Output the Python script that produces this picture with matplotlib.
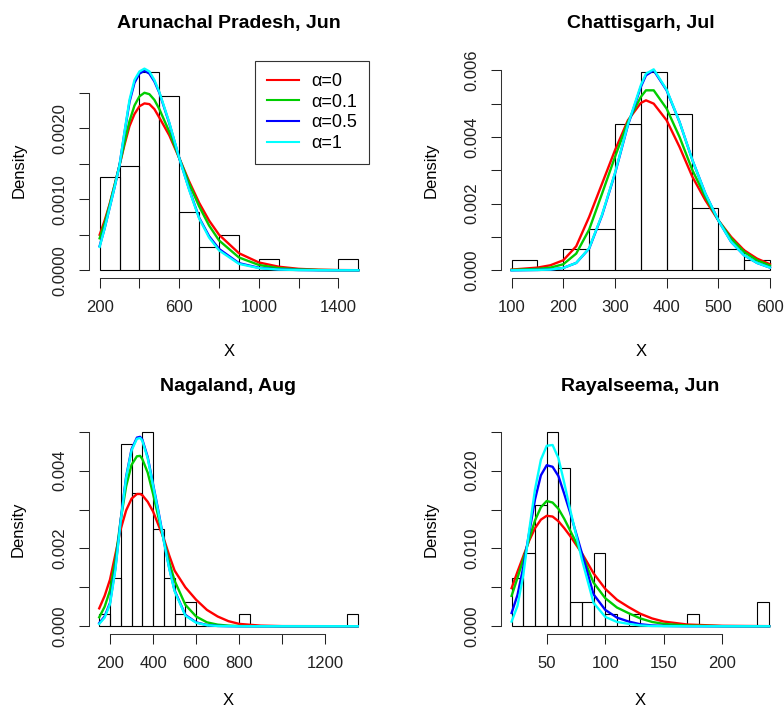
import matplotlib
matplotlib.use('Agg')
import matplotlib.pyplot as plt
import numpy as np

plt.rcParams['font.family'] = ['Liberation Sans', 'DejaVu Sans']

# curve colours for the four alpha values
alpha_labels = ['α=0', 'α=0.1', 'α=0.5', 'α=1']
colors = ['#FF0000', '#00CD00', '#0000FF', '#00FFFF']

# ---- Arunachal Pradesh, Jun  (curve values in units of 1e-3)
ap_edges = [200, 300, 400, 500, 600, 700, 800, 900, 1000, 1100, 1200, 1300, 1400, 1500]
ap_counts = [8, 9, 17, 15, 5, 2, 3, 0, 1, 0, 0, 0, 1]
ap_x = [200, 225, 250, 275, 300, 325, 350, 375, 400, 425, 450, 475, 500, 550, 600,
        650, 700, 750, 800, 900, 1000, 1100, 1200, 1300, 1400, 1500]
ap_red = [0.5, 0.7, 0.93, 1.2, 1.48, 1.77, 2.03, 2.2, 2.31, 2.35, 2.34, 2.27, 2.15, 1.9, 1.58,
          1.25, 0.95, 0.7, 0.5, 0.24, 0.11, 0.05, 0.02, 0.008, 0.003, 0.001]
ap_green = [0.45, 0.66, 0.92, 1.2, 1.48, 1.8, 2.1, 2.32, 2.45, 2.5, 2.48, 2.4, 2.27, 1.95, 1.58,
            1.22, 0.9, 0.63, 0.42, 0.18, 0.075, 0.03, 0.012, 0.004, 0.001, 0.0]
ap_blue = [0.34, 0.59, 0.88, 1.17, 1.48, 1.94, 2.37, 2.64, 2.77, 2.81, 2.77, 2.66, 2.5, 2.07, 1.58,
           1.14, 0.74, 0.48, 0.3, 0.1, 0.035, 0.012, 0.004, 0.001, 0.0, 0.0]
ap_cyan = [0.33, 0.59, 0.88, 1.17, 1.48, 1.95, 2.4, 2.68, 2.8, 2.84, 2.8, 2.68, 2.51, 2.08, 1.58,
           1.13, 0.73, 0.46, 0.28, 0.09, 0.03, 0.01, 0.003, 0.001, 0.0, 0.0]
ap_xticks = [200, 400, 600, 800, 1000, 1200, 1400]
ap_xticklabels = ['200', '', '600', '', '1000', '', '1400']
ap_yticks = [0, 0.0005, 0.001, 0.0015, 0.002, 0.0025]
ap_yticklabels = ['0.0000', '', '0.0010', '', '0.0020', '']

# ---- Chattisgarh, Jul
ch_edges = [100, 150, 200, 250, 300, 350, 400, 450, 500, 550, 600]
ch_counts = [1, 0, 2, 4, 14, 19, 15, 6, 2, 1]
ch_x = [100, 150, 175, 200, 225, 250, 275, 300, 325, 350, 360, 375, 400, 425, 450, 475, 500,
        525, 550, 575, 600]
ch_red = [0.02, 0.08, 0.15, 0.3, 0.72, 1.6, 2.6, 3.6, 4.5, 5.02, 5.1, 5.0, 4.5, 3.7, 2.8, 2.1,
          1.5, 1.0, 0.6, 0.35, 0.18]
ch_green = [0.01, 0.04, 0.08, 0.18, 0.5, 1.22, 2.3, 3.4, 4.45, 5.2, 5.4, 5.4, 4.85, 4.0, 3.0,
            2.2, 1.5, 0.95, 0.55, 0.3, 0.14]
ch_blue = [0.0, 0.01, 0.02, 0.07, 0.22, 0.65, 1.65, 2.9, 4.35, 5.5, 5.85, 6.0, 5.4, 4.45, 3.3,
           2.3, 1.5, 0.85, 0.45, 0.22, 0.08]
ch_cyan = [0.0, 0.01, 0.02, 0.07, 0.22, 0.66, 1.67, 2.92, 4.37, 5.55, 5.9, 6.03, 5.42, 4.45, 3.3,
           2.3, 1.5, 0.85, 0.45, 0.22, 0.08]
ch_xticks = [100, 200, 300, 400, 500, 600]
ch_xticklabels = ['100', '200', '300', '400', '500', '600']
ch_yticks = [0, 0.001, 0.002, 0.003, 0.004, 0.005, 0.006]
ch_yticklabels = ['0.000', '', '0.002', '', '0.004', '', '0.006']

# ---- Nagaland, Aug
na_edges = list(range(150, 1351, 50))
na_counts = [1, 4, 15, 11, 16, 8, 4, 1, 2, 0, 0, 0, 0, 1, 0, 0, 0, 0, 0, 0, 0, 0, 0, 1]
na_x = [150, 175, 200, 225, 250, 275, 300, 325, 340, 350, 375, 400, 425, 450, 475, 500, 550,
        600, 650, 700, 750, 800, 900, 1000, 1350]
na_red = [0.46, 0.78, 1.2, 1.85, 2.5, 2.98, 3.28, 3.4, 3.4, 3.37, 3.2, 2.95, 2.6, 2.25, 1.82,
          1.43, 1.0, 0.68, 0.42, 0.25, 0.13, 0.06, 0.015, 0.003, 0.0]
na_green = [0.23, 0.5, 0.92, 1.7, 2.75, 3.6, 4.15, 4.37, 4.38, 4.3, 3.95, 3.4, 2.8, 2.22, 1.65,
            1.17, 0.55, 0.25, 0.1, 0.04, 0.015, 0.005, 0.001, 0.0, 0.0]
na_blue = [0.08, 0.25, 0.6, 1.5, 2.75, 3.85, 4.55, 4.85, 4.87, 4.8, 4.35, 3.65, 2.95, 2.2, 1.5,
           0.92, 0.29, 0.1, 0.03, 0.008, 0.002, 0.0, 0.0, 0.0, 0.0]
na_cyan = [0.06, 0.22, 0.57, 1.45, 2.72, 3.82, 4.52, 4.82, 4.84, 4.77, 4.32, 3.62, 2.92, 2.18,
           1.48, 0.9, 0.27, 0.09, 0.025, 0.006, 0.001, 0.0, 0.0, 0.0, 0.0]
na_xticks = [200, 400, 600, 800, 1000, 1200]
na_xticklabels = ['200', '400', '600', '800', '', '1200']
na_yticks = [0, 0.001, 0.002, 0.003, 0.004, 0.005]
na_yticklabels = ['0.000', '', '0.002', '', '0.004', '']

# ---- Rayalseema, Jun
ra_edges = list(range(20, 241, 10))
ra_counts = [4, 6, 10, 16, 13, 2, 2, 6, 1, 0, 1, 0, 0, 0, 0, 1, 0, 0, 0, 0, 0, 2]
ra_x = [20, 25, 30, 35, 40, 45, 50, 55, 60, 65, 70, 80, 90, 100, 110, 120, 130, 140, 150,
        170, 200, 240]
ra_red = [4.9, 7.0, 9.0, 11.0, 12.6, 13.7, 14.2, 14.1, 13.5, 12.6, 11.6, 9.4, 6.8, 4.8, 3.4,
          2.45, 1.6, 1.0, 0.6, 0.22, 0.05, 0.01]
ra_green = [3.9, 6.2, 8.6, 11.2, 13.6, 15.3, 16.1, 15.9, 15.1, 13.8, 12.3, 9.3, 5.6, 3.6, 2.4,
            1.67, 1.0, 0.55, 0.3, 0.08, 0.01, 0.0]
ra_blue = [1.7, 4.0, 7.6, 12.0, 16.3, 19.4, 20.7, 20.5, 19.3, 17.0, 14.6, 9.4, 4.1, 2.1, 1.1,
           0.6, 0.25, 0.1, 0.04, 0.0, 0.0, 0.0]
ra_cyan = [0.6, 2.6, 6.6, 12.3, 17.6, 21.4, 23.2, 23.3, 21.6, 18.4, 15.0, 8.6, 3.0, 1.2, 0.55,
           0.3, 0.1, 0.03, 0.01, 0.0, 0.0, 0.0]
ra_xticks = [50, 100, 150, 200]
ra_xticklabels = ['50', '100', '150', '200']
ra_yticks = [0, 0.005, 0.01, 0.015, 0.02, 0.025]
ra_yticklabels = ['0.000', '', '0.010', '', '0.020', '']

W, H = 784, 709
fig = plt.figure(figsize=(W / 100, H / 100), dpi=100)


# Axes rectangle from pixel edges of the plot region
def rect(left, top, right, bottom):
    return [left / W, 1 - bottom / H, (right - left) / W, (bottom - top) / H]


def panel(box, title, edges, counts, x, curves, ymax,
          xticks, xticklabels, yticks, yticklabels, xlabelpad, legend=False):
    ax = fig.add_axes(box)
    ax.hist(edges[:-1], bins=edges, weights=counts, density=True,
            histtype='bar', fill=False, edgecolor='black', linewidth=0.8)
    for vals, col, lab in zip(curves, colors, alpha_labels):
        ax.plot(x, np.array(vals) * 1e-3, color=col, lw=1.7, label=lab)
    span = edges[-1] - edges[0]
    ax.set_xlim(edges[0] - 0.04 * span, edges[-1] + 0.04 * span)
    ax.set_ylim(-0.04 * ymax, 1.04 * ymax)

    ax.set_xticks(xticks)
    ax.set_xticklabels(xticklabels)
    ax.set_yticks(yticks)
    ax.set_yticklabels(yticklabels, rotation=90, va='center')
    ax.tick_params(length=7, width=0.75, pad=8.5, labelsize=12, colors='#222222')
    for s in ['top', 'right']:
        ax.spines[s].set_visible(False)
    for s in ['left', 'bottom']:
        ax.spines[s].set_linewidth(0.75)
        ax.spines[s].set_color('#333333')
    ax.spines['bottom'].set_bounds(xticks[0], xticks[-1])
    ax.spines['left'].set_bounds(yticks[0], yticks[-1])

    ax.set_xlabel('X', fontsize=12, labelpad=xlabelpad)
    ax.set_ylabel('Density', fontsize=12, labelpad=19)
    ax.set_title(title, fontsize=14, fontweight='bold', pad=24)
    ax.patch.set_visible(False)

    if legend:
        leg = ax.legend(loc='upper right', borderaxespad=0, fancybox=False,
                        edgecolor='#333333', framealpha=1, fontsize=13,
                        handlelength=1.77, handletextpad=0.66, borderpad=0.65,
                        labelspacing=0.2)
        leg.get_frame().set_linewidth(0.8)
        for line in leg.get_lines():
            line.set_linewidth(1.5)
    return ax


panel(rect(89.3, 61.3, 368.7, 278.3), 'Arunachal Pradesh, Jun', ap_edges, ap_counts,
      ap_x, [ap_red, ap_green, ap_blue, ap_cyan], 0.00283,
      ap_xticks, ap_xticklabels, ap_yticks, ap_yticklabels, 21, legend=True)
panel(rect(501.3, 61.3, 780.3, 278.3), 'Chattisgarh, Jul', ch_edges, ch_counts,
      ch_x, [ch_red, ch_green, ch_blue, ch_cyan], 0.00603,
      ch_xticks, ch_xticklabels, ch_yticks, ch_yticklabels, 21)
panel(rect(88.9, 424, 368.0, 634), 'Nagaland, Aug', na_edges, na_counts,
      na_x, [na_red, na_green, na_blue, na_cyan], 0.005,
      na_xticks, na_xticklabels, na_yticks, na_yticklabels, 16)
panel(rect(501.3, 424, 779.5, 634), 'Rayalseema, Jun', ra_edges, ra_counts,
      ra_x, [ra_red, ra_green, ra_blue, ra_cyan], 0.025,
      ra_xticks, ra_xticklabels, ra_yticks, ra_yticklabels, 16)

fig.savefig('out.png', dpi=100, facecolor='white')
